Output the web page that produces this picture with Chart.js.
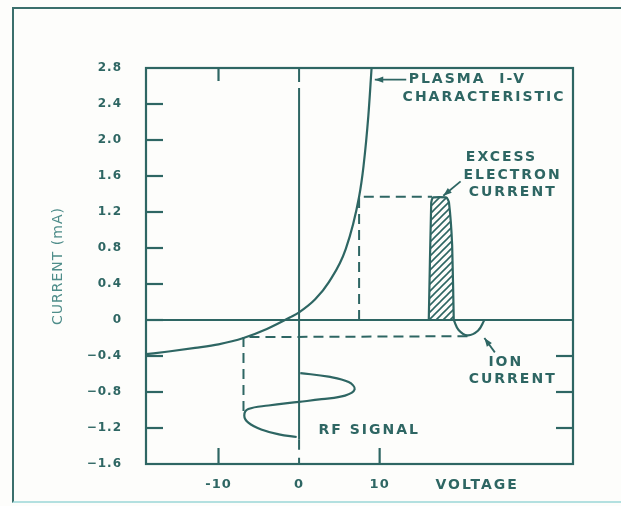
<!DOCTYPE html>
<html>
<head>
<meta charset="utf-8">
<script src="https://cdn.jsdelivr.net/npm/chart.js@4"></script>
<style>
  html, body { margin: 0; padding: 0; background: #fdfdfb; }
  #wrap { position: relative; width: 621px; height: 506px; }
  #frame { position: absolute; left: 12px; top: 7px; right: 0; bottom: 3px;
           border-left: 2px solid #3b6f6c; border-top: 2px solid #3b6f6c;
           border-bottom: 2px solid #b3e0e0; pointer-events: none; }
</style>
</head>
<body>
<div id="wrap">
  <canvas id="chart" width="621" height="506"></canvas>
  <div id="frame"></div>
</div>
<script>
// plasma I-V characteristic
var ivVoltage = [-19, -16.2, -12.9, -10, -6.9, -4.0, -1.1, 0, 2, 3.7, 5.8, 7.45, 8.0, 8.6, 9.0];
var ivCurrent = [-0.38, -0.35, -0.31, -0.27, -0.20, -0.10, 0.03, 0.085, 0.23, 0.42, 0.79, 1.37, 1.71, 2.27, 2.8];

// rf signal, drawn down the current axis
var rfVoltage = [0.15, 3.66, 6.15, 6.9, 5.7, 2.8, 0, -3.8, -6.3, -6.8, -6.3, -4.6, -2.5, -0.3];
var rfCurrent = [-0.59, -0.63, -0.69, -0.77, -0.84, -0.88, -0.91, -0.95, -0.99, -1.06, -1.14, -1.22, -1.27, -1.30];

// excess electron current pulse (hatched)
var pulseVoltage = [16.1, 16.4, 16.6, 18.3, 18.6, 19.0, 19.2];
var pulseCurrent = [0, 1.3, 1.36, 1.36, 1.31, 0.83, 0];

// ion current dip
var ionVoltage = [19.2, 19.8, 20.9, 22.2, 23.0];
var ionCurrent = [0, -0.11, -0.17, -0.12, 0];

// dashed guide lines
var guideHiVoltage = [7.45, 7.45, 16.5];
var guideHiCurrent = [0, 1.37, 1.37];
var guideLoVoltage = [20.9, -6.9, -6.9];
var guideLoCurrent = [-0.18, -0.19, -1.01];

var yTickValues = [2.8, 2.4, 2.0, 1.6, 1.2, 0.8, 0.4, 0, -0.4, -0.8, -1.2, -1.6];
var xTickValues = [-10, 0, 10];
var rightTickValues = [-0.4, -0.8, -1.2];
var topTickValues = [-10];
var bottomTickValues = [-10, 10];

var ink = '#2e6663';

function pts(xs, ys) {
  return xs.map(function (v, i) { return {x: v, y: ys[i]}; });
}

function hatch() {
  var s = 7;
  var c = document.createElement('canvas');
  c.width = s; c.height = s;
  var g = c.getContext('2d');
  g.strokeStyle = ink;
  g.lineWidth = 1.6;
  g.beginPath();
  g.moveTo(-1, s + 1); g.lineTo(s + 1, -1);
  g.moveTo(-1, 1); g.lineTo(1, -1);
  g.moveTo(s - 1, s + 1); g.lineTo(s + 1, s - 1);
  g.stroke();
  return g.createPattern(c, 'repeat');
}

function line(ctx, x1, y1, x2, y2) {
  ctx.beginPath(); ctx.moveTo(x1, y1); ctx.lineTo(x2, y2); ctx.stroke();
}

function arrow(ctx, x1, y1, x2, y2) {
  line(ctx, x1, y1, x2, y2);
  var a = Math.atan2(y2 - y1, x2 - x1);
  ctx.beginPath();
  ctx.moveTo(x2, y2);
  ctx.lineTo(x2 - 9 * Math.cos(a - 0.35), y2 - 9 * Math.sin(a - 0.35));
  ctx.lineTo(x2 - 9 * Math.cos(a + 0.35), y2 - 9 * Math.sin(a + 0.35));
  ctx.closePath();
  ctx.fill();
}

var decor = {
  id: 'decor',
  beforeDraw: function (chart) {
    chart.ctx.letterSpacing = '1px';
  },
  afterDatasetsDraw: function (chart) {
    var ctx = chart.ctx, a = chart.chartArea, x = chart.scales.x, y = chart.scales.y;
    ctx.save();
    ctx.strokeStyle = ink;
    ctx.fillStyle = ink;
    ctx.lineWidth = 2.2;
    ctx.strokeRect(a.left, a.top, a.right - a.left, a.bottom - a.top);

    // inward tick marks
    yTickValues.slice(1, -1).forEach(function (v) {
      var py = y.getPixelForValue(v);
      line(ctx, a.left, py, a.left + 17, py);
    });
    rightTickValues.forEach(function (v) {
      var py = y.getPixelForValue(v);
      line(ctx, a.right - 17, py, a.right, py);
    });
    topTickValues.forEach(function (v) {
      var px = x.getPixelForValue(v);
      line(ctx, px, a.top, px, a.top + 13);
    });
    bottomTickValues.forEach(function (v) {
      var px = x.getPixelForValue(v);
      line(ctx, px, a.bottom - 16, px, a.bottom);
    });

    // annotations
    ctx.lineWidth = 1.8;
    ctx.font = 'bold 14px "DejaVu Sans"';
    ctx.letterSpacing = '2px';
    ctx.textBaseline = 'middle';
    ctx.textAlign = 'left';
    function t(s, vx, vy) { ctx.fillText(s, x.getPixelForValue(vx), y.getPixelForValue(vy)); }
    function ar(x1, y1, x2, y2) {
      arrow(ctx, x.getPixelForValue(x1), y.getPixelForValue(y1), x.getPixelForValue(x2), y.getPixelForValue(y2));
    }
    t('PLASMA  I-V', 13.6, 2.67);
    t('CHARACTERISTIC', 12.85, 2.47);
    ar(13.3, 2.67, 9.4, 2.67);
    t('EXCESS', 20.7, 1.81);
    t('ELECTRON', 20.4, 1.61);
    t('CURRENT', 21.05, 1.42);
    ar(20.05, 1.54, 17.9, 1.38);
    t('ION', 23.5, -0.47);
    t('CURRENT', 21.05, -0.66);
    ar(24.3, -0.36, 23.0, -0.2);
    t('RF SIGNAL', 2.4, -1.23);
    // axis name sits on the tick-label row
    ctx.textAlign = 'center';
    ctx.fillText('VOLTAGE', x.getPixelForValue(22.1), a.bottom + 21);
    ctx.restore();
  }
};

var base = {showLine: true, pointRadius: 0, borderColor: ink, borderWidth: 2.2, fill: false};
function ds(extra) { return Object.assign({}, base, extra); }

new Chart(document.getElementById('chart'), {
  type: 'scatter',
  data: {
    datasets: [
      ds({label: 'Plasma I-V', data: pts(ivVoltage, ivCurrent), cubicInterpolationMode: 'monotone'}),
      ds({label: 'zero current', data: [{x: -19, y: 0}, {x: 34, y: 0}], borderWidth: 2}),
      ds({label: 'zero volts', data: [{x: 0, y: 2.5}, {x: 0, y: -1.33}], borderWidth: 2}),
      ds({label: 'zero volts top', data: [{x: 0, y: 2.8}, {x: 0, y: 2.5}], borderWidth: 2, borderDash: [14, 6]}),
      ds({label: 'zero volts bottom', data: [{x: 0, y: -1.33}, {x: 0, y: -1.6}], borderWidth: 2, borderDash: [10, 8]}),
      ds({label: 'guide hi', data: pts(guideHiVoltage, guideHiCurrent), borderDash: [10, 6], borderWidth: 2}),
      ds({label: 'guide lo', data: pts(guideLoVoltage, guideLoCurrent), borderDash: [10, 6], borderWidth: 2}),
      ds({label: 'RF signal', data: pts(rfVoltage, rfCurrent), tension: 0.4}),
      ds({label: 'Excess electron current', data: pts(pulseVoltage, pulseCurrent), tension: 0.15,
          fill: 'origin', backgroundColor: hatch()}),
      ds({label: 'Ion current', data: pts(ionVoltage, ionCurrent), tension: 0.4})
    ]
  },
  options: {
    responsive: false,
    animation: false,
    layout: {padding: {top: 68, right: 48, bottom: 0, left: 0}},
    plugins: {legend: {display: false}, tooltip: {enabled: false}},
    scales: {
      x: {
        type: 'linear', min: -19, max: 34,
        grid: {display: false, drawTicks: false},
        border: {display: false},
        afterBuildTicks: function (s) { s.ticks = xTickValues.map(function (v) { return {value: v}; }); },
        afterFit: function (s) { s.height = 42; },
        ticks: {
          color: ink, padding: 13, maxRotation: 0, autoSkip: false,
          font: {family: 'DejaVu Sans', size: 13, weight: 'bold'},
          callback: function (v) { return String(v); }
        }
      },
      y: {
        type: 'linear', min: -1.6, max: 2.8,
        grid: {display: false, drawTicks: false},
        border: {display: false},
        afterBuildTicks: function (s) { s.ticks = yTickValues.map(function (v) { return {value: v}; }); },
        afterFit: function (s) { s.width = 146; },
        ticks: {
          color: ink, padding: 24, autoSkip: false,
          font: {family: 'DejaVu Sans', size: 12, weight: 'bold'},
          callback: function (v) {
            if (v === 0) return '0';
            return (v < 0 ? '\u2212' : '') + Math.abs(v).toFixed(1);
          }
        },
        title: {
          display: true, text: 'CURRENT (mA)', color: '#4f8d8a',
          padding: {top: 50, bottom: 0},
          font: {family: 'DejaVu Sans', size: 14}
        }
      }
    }
  },
  plugins: [decor]
});
</script>
</body>
</html>
